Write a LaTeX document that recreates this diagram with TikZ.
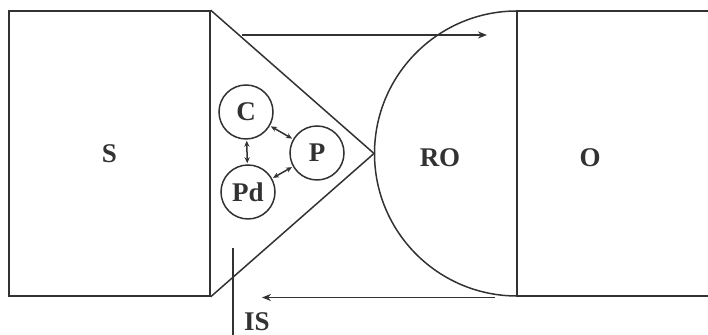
\documentclass[tikz,border=0pt]{standalone}
\usepackage{fontspec}
\setmainfont{Liberation Serif}
\usepackage{tikz}
\usetikzlibrary{arrows.meta}
\definecolor{cInk}{RGB}{50,50,50}

\begin{document}
\begin{tikzpicture}[x=0.5pt,y=0.5pt,line width=0.75pt,draw=cInk,
  >={Stealth[length=4.5pt,width=3.5pt]},
  lbl/.style={font=\fontsize{13.5}{16}\selectfont\bfseries,text=cInk},
  part/.style={draw,circle,minimum size=27pt,inner sep=0pt,lbl},
  link/.style={{Stealth[length=3pt,width=2.6pt]}-{Stealth[length=3pt,width=2.6pt]},fill=cInk,shorten <=0.5pt,shorten >=0.5pt}]
\useasboundingbox (0,0) rectangle (708,335);
\clip (0,0) rectangle (708,335);
\node[draw,minimum width=100.5pt,minimum height=142.5pt,inner sep=0pt,lbl] (S) at (109.5,181.5) {S};
\draw (S.north east) -- (374,181.5) -- (S.south east);
\draw (720,324) -- (517,324) -- (517,39) -- (720,39);
\draw (517,324) arc[start angle=90,end angle=270,radius=71.25pt];
\node[lbl] (RO) at (440,177) {RO};
\node[lbl] (O) at (590,177) {O};
\node[part] (C) at (246,223) {C};
\node[part] (P) at (317,182) {P};
\node[part] (Pd) at (248,143) {Pd};
\draw[link] (C) -- (P);
\draw[link] (C) -- (Pd);
\draw[link] (Pd) -- (P);
\coordinate (in0) at (242,300);
\coordinate (in1) at (487,300);
\draw[->,fill=cInk] (in0) -- (in1);
\coordinate (out0) at (495,37.5);
\coordinate (out1) at (262,37.5);
\draw[->,fill=cInk] (out0) -- (out1);
\coordinate (isTop) at (233,87);
\coordinate (isEnd) at (233,0);
\draw (isTop) -- (isEnd);
\node[lbl] (IS) at (257,13) {IS};
\end{tikzpicture}
\end{document}
